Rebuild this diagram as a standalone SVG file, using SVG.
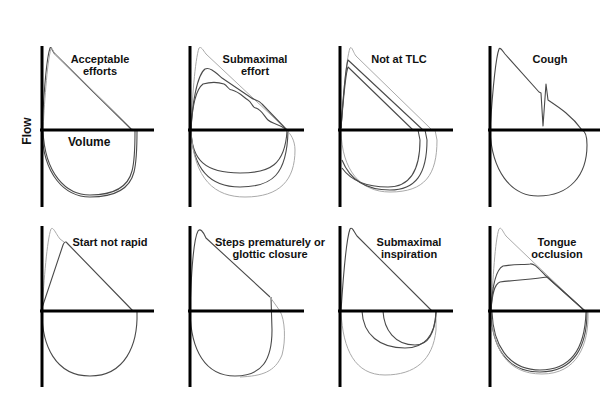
<svg xmlns="http://www.w3.org/2000/svg" width="600" height="400" viewBox="0 0 600 400">
<style>
.ax{stroke:#000;stroke-width:3;fill:none}
.s{stroke:#4a4a4a;stroke-width:1.1;fill:none;stroke-linejoin:round}
.g{stroke:#aaaaaa;stroke-width:1;fill:none;stroke-linejoin:round}
.t{font-family:"Liberation Sans",Arial,sans-serif;font-weight:bold;font-size:11px;fill:#111;text-anchor:middle}
.l{font-family:"Liberation Sans",Arial,sans-serif;font-weight:bold;font-size:12px;fill:#111}
</style>
<rect width="600" height="400" fill="#fff"/>
<g id="panel1">
<path class="s" d="M42,130 C43,110 46,60 50,48 C51,46 52,50 54,53 L131,129 L133,130"/>
<path class="g" d="M43,130 C44,110 47,61 51,49 C52,47 53,51 55,54 L132,129 L134,130"/>
<path class="s" d="M42,131 C43,175 65,197 90,197 C115,197 130,188 134,172 C137,160 137,145 137,131"/>
<path class="s" d="M43,131 C45,174 66,195 90,195 C114,195 128,187 132,171 C135,160 135,145 135,131"/>
<line class="ax" x1="42" y1="46" x2="42" y2="207"/><line class="ax" x1="40" y1="130" x2="154" y2="130"/>
<text class="t" x="100" y="63">Acceptable</text><text class="t" x="100" y="75">efforts</text>
<text class="l" x="68" y="146">Volume</text>
<text class="l" x="31" y="131" text-anchor="middle" transform="rotate(-90 31 131)">Flow</text>
</g>
<g id="panel2">
<path class="g" d="M191,130 C192,100 195,60 199,48 C201,46 203,50 206,54 L287,130"/>
<path class="s" d="M191,130 C192,105 197,75 205,69 C210,67 215,72 222,78 L250,97 C255,101 258,99 262,104 L287,130"/>
<path class="s" d="M191,130 C192,110 195,90 203,84 C210,82 218,82 224,84 C228,86 228,90 232,90 C240,92 244,98 248,100 C252,102 252,108 256,108 C262,110 264,116 268,120 C272,124 276,122 287,130"/>
<path class="s" d="M191,131 C192,160 205,173 240,173 C270,173 285,165 287,131"/>
<path class="s" d="M191,131 C193,170 210,187 240,187 C272,187 287,175 288,131"/>
<path class="g" d="M191,131 C194,180 215,197 245,197 C280,197 295,180 295,150 C295,140 290,133 287,131"/>
<line class="ax" x1="190" y1="46" x2="190" y2="207"/><line class="ax" x1="188" y1="130" x2="304" y2="130"/>
<text class="t" x="255" y="63">Submaximal</text><text class="t" x="255" y="75">effort</text>
</g>
<g id="panel3">
<path class="g" d="M341,130 C343,100 346,60 350,48 C352,46 353,52 356,56 L432,130"/>
<path class="s" d="M341,128 C343,100 345,70 348,60 L423,130"/>
<path class="s" d="M341,128 C343,105 345,75 348,67 L413,130"/>
<path class="g" d="M341,131 C342,170 360,192 390,192 C425,192 437,175 437,140 L435,130"/>
<path class="s" d="M342,160 C350,180 365,190 390,190 C415,190 427,175 427,140 L425,130"/>
<path class="s" d="M342,168 C352,182 368,187 388,187 C410,187 420,170 420,140 L418,130"/>
<line class="ax" x1="340" y1="46" x2="340" y2="207"/><line class="ax" x1="338" y1="130" x2="453" y2="130"/>
<text class="t" x="399" y="63">Not at TLC</text>
</g>
<g id="panel4">
<path class="s" d="M490,130 C492,100 495,60 499,49 C500,47 502,50 505,54 L539,92 L541,93 L543,126 L546,84 L548,100 C560,108 572,116 582,130"/>
<path class="s" d="M490,131 C492,170 510,196 538,196 C570,196 587,175 587,145 C587,135 585,131 582,130"/>
<line class="ax" x1="490" y1="46" x2="490" y2="207"/><line class="ax" x1="488" y1="130" x2="600" y2="130"/>
<text class="t" x="550" y="63">Cough</text>
</g>
<g id="panel5">
<path class="g" d="M42,311 C44,280 47,240 51,229 C53,226 56,234 60,239 L64,242"/>
<path class="s" d="M42,308 L63,245 C64,242 66,241 67,243 L133,311"/>
<path class="s" d="M42,312 C42,345 55,376 90,376 C125,376 138,345 137,312"/>
<line class="ax" x1="42" y1="226" x2="42" y2="387"/><line class="ax" x1="40" y1="311" x2="154" y2="311"/>
<text class="t" x="110" y="246">Start not rapid</text>
</g>
<g id="panel6">
<path class="s" d="M190,311 C191,280 193,240 198,231 C200,228 203,231 206,238 L270,297"/>
<path class="s" d="M190,312 C191,350 205,376 235,376 C262,376 272,360 272,330 L271,297"/>
<path class="g" d="M270,297 L280,311 C285,320 286,340 282,355 C275,372 262,376 240,377"/>
<line class="ax" x1="190" y1="226" x2="190" y2="387"/><line class="ax" x1="188" y1="311" x2="304" y2="311"/>
<text class="t" x="270" y="246">Steps prematurely or</text><text class="t" x="270" y="258">glottic closure</text>
</g>
<g id="panel7">
<path class="s" d="M341,311 C343,280 346,240 350,229 C352,226 354,232 357,236 L432,311"/>
<path class="g" d="M341,312 C343,350 355,375 385,375 C415,375 433,360 436,330 L436,311"/>
<path class="s" d="M362,311 C363,335 380,348 405,348 C425,348 435,335 436,312"/>
<path class="s" d="M383,311 C384,330 395,345 415,345 C428,345 435,333 436,312"/>
<line class="ax" x1="340" y1="226" x2="340" y2="387"/><line class="ax" x1="338" y1="311" x2="453" y2="311"/>
<text class="t" x="409" y="246">Submaximal</text><text class="t" x="409" y="258">inspiration</text>
</g>
<g id="panel8">
<path class="g" d="M491,311 C493,280 495,240 499,229 C501,226 503,232 506,236 L530,259 L585,311"/>
<path class="s" d="M491,311 C492,290 495,270 503,266 C515,264 525,265 530,264 C534,263 538,268 545,275 L585,311"/>
<path class="s" d="M491,311 C492,295 494,284 500,282 C515,280 535,279 547,277 L585,311"/>
<path class="s" d="M491,312 C492,345 505,372 540,372 C575,372 587,345 587,312"/>
<path class="s" d="M492,312 C493,343 507,370 540,370 C573,370 585,345 586,312"/>
<path class="g" d="M491,312 C493,348 506,374 542,374 C577,374 589,345 588,312"/>
<line class="ax" x1="490" y1="226" x2="490" y2="387"/><line class="ax" x1="488" y1="311" x2="600" y2="311"/>
<text class="t" x="557" y="246">Tongue</text><text class="t" x="557" y="258">occlusion</text>
</g>
</svg>
